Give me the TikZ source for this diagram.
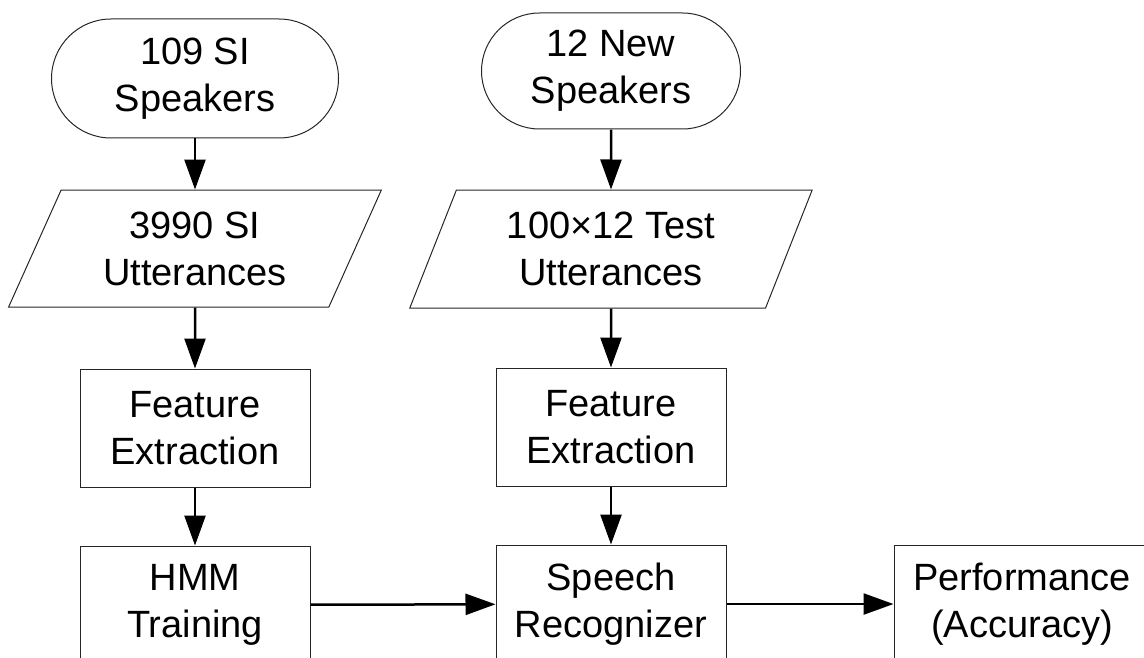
\documentclass[tikz,border=0pt]{standalone}
\usepackage{fontspec}
\setmainfont{Liberation Sans}
\usetikzlibrary{arrows.meta, shapes.geometric, shapes.misc, positioning}

\begin{document}
\begin{tikzpicture}[x=1pt, y=-1pt,
    node distance=58pt,
    blk/.style={draw=black!85, line width=1pt, align=center, inner sep=0pt,
                font=\fontsize{38}{47}\selectfont},
    term/.style={blk, rounded rectangle},
    io/.style={blk, trapezium, trapezium stretches=true},
    box/.style={blk, rectangle, minimum width=230pt, minimum height=118pt},
    arr/.style={-{Triangle[length=30pt, width=21pt]}, line width=2.5pt},
  ]
  \useasboundingbox (0,0) rectangle (1144,658);
  % speaker independent training
  \node[term, minimum width=287pt, minimum height=119pt] (siSpk) at (195,78.5) {109 SI\\Speakers};
  \node[io, trapezium left angle=64, trapezium right angle=116,
        minimum width=373pt, minimum height=117pt, below=51pt of siSpk] (siUtt) {3990 SI\\Utterances};
  \node[box, below=61pt of siUtt] (siFeat) {Feature\\Extraction};
  \node[box, below=of siFeat] (hmm) {HMM\\Training};
  % test speakers
  \node[term, minimum width=259pt, minimum height=116pt] (newSpk) at (611,71) {12 New\\Speakers};
  \node[io, trapezium left angle=67, trapezium right angle=113,
        minimum width=404pt, minimum height=118pt, below=60pt of newSpk] (testUtt) {100×12 Test\\Utterances};
  \node[box, below=59pt of testUtt] (testFeat) {Feature\\Extraction};
  \node[box, below=of testFeat] (rec) {Speech\\Recognizer};
  \node[box, minimum width=256pt, right=167pt of rec] (perf) {Performance\\(Accuracy)};
  \draw[arr] (siSpk) -- (siUtt);
  \draw[arr] (siUtt) -- (siFeat);
  \draw[arr] (siFeat) -- (hmm);
  \draw[arr] (newSpk) -- (testUtt);
  \draw[arr] (testUtt) -- (testFeat);
  \draw[arr] (testFeat) -- (rec);
  \draw[arr] (hmm) -- (rec);
  \draw[arr] (rec) -- (perf);
\end{tikzpicture}
\end{document}
